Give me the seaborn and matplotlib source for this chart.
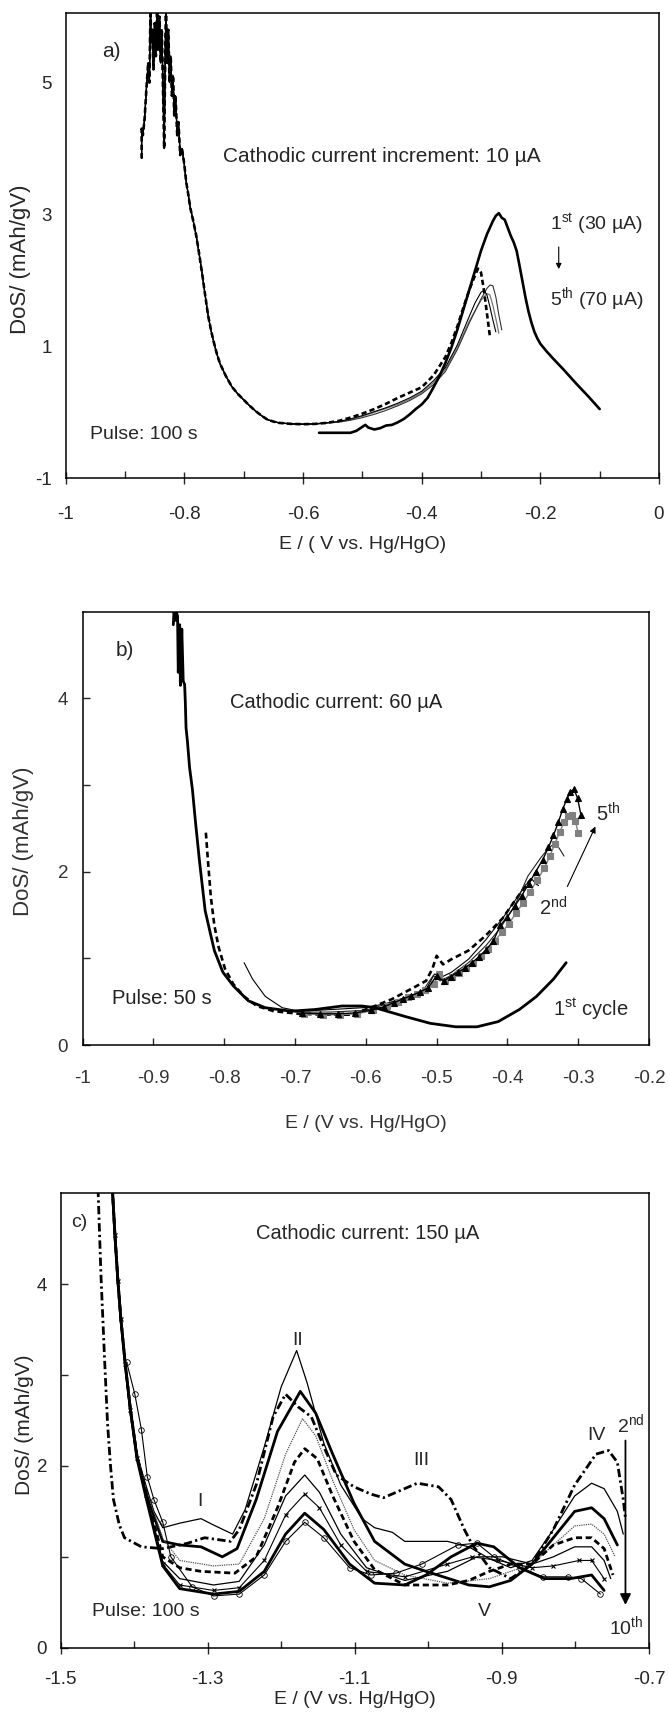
import matplotlib
matplotlib.use('Agg')
import matplotlib.pyplot as plt
import seaborn as sns

# ======================= DATA =======================
# ---- panel a : pulse 100 s, cathodic current increment 10 uA ----
a_left_x = [-0.872, -0.872, -0.870, -0.867, -0.864, -0.861, -0.859, -0.857, -0.856, -0.854,
            -0.852, -0.850, -0.848, -0.846, -0.844, -0.842, -0.840, -0.838, -0.836, -0.834,
            -0.832, -0.831, -0.829, -0.827, -0.825, -0.823, -0.821, -0.819, -0.817, -0.815,
            -0.812, -0.810, -0.807, -0.804, -0.800, -0.797, -0.793, -0.790, -0.785, -0.780,
            -0.775, -0.770, -0.765, -0.760, -0.755, -0.750, -0.745, -0.740, -0.730, -0.720,
            -0.710, -0.700, -0.690, -0.680, -0.670, -0.660, -0.650, -0.640, -0.620, -0.600,
            -0.580, -0.560]
a_left_y = [3.85, 4.30, 4.20, 4.45, 4.90, 5.30, 5.00, 6.10, 5.60, 5.80,
            5.20, 5.90, 5.40, 6.10, 5.50, 6.00, 5.30, 5.80, 4.90, 4.00,
            5.60, 6.10, 5.30, 5.80, 5.00, 5.40, 4.80, 5.10, 4.50, 4.80,
            4.20, 4.40, 3.90, 4.00, 3.75, 3.50, 3.28, 3.10, 2.90, 2.68,
            2.40, 2.10, 1.78, 1.47, 1.24, 1.05, 0.88, 0.74, 0.55, 0.39,
            0.28, 0.19, 0.10, 0.02, -0.05, -0.11, -0.14, -0.16, -0.175, -0.18,
            -0.175, -0.16]
a_c1_x = [-0.573, -0.56, -0.54, -0.52, -0.51, -0.50, -0.495, -0.49, -0.48, -0.47, -0.46, -0.45,
          -0.44, -0.43, -0.42, -0.41, -0.40, -0.39, -0.38, -0.37, -0.36, -0.35, -0.34, -0.33,
          -0.32, -0.31, -0.30, -0.29, -0.28, -0.275, -0.27, -0.265, -0.26, -0.255, -0.25, -0.245,
          -0.24, -0.235, -0.23, -0.225, -0.22, -0.215, -0.21, -0.205, -0.20, -0.19, -0.18,
          -0.16, -0.14, -0.12, -0.10]
a_c1_y = [-0.31, -0.31, -0.31, -0.31, -0.28, -0.22, -0.19, -0.23, -0.26, -0.24, -0.20, -0.19,
          -0.15, -0.10, -0.03, 0.05, 0.12, 0.22, 0.38, 0.55, 0.75, 0.98, 1.25, 1.55,
          1.85, 2.15, 2.45, 2.70, 2.90, 2.98, 3.02, 2.95, 2.92, 2.80, 2.68, 2.58,
          2.45, 2.22, 1.98, 1.74, 1.53, 1.36, 1.22, 1.12, 1.04, 0.93, 0.83,
          0.64, 0.44, 0.25, 0.05]
a_c2_x = [-0.54, -0.52, -0.50, -0.48, -0.46, -0.44, -0.42, -0.40, -0.38, -0.36, -0.35, -0.34,
          -0.33, -0.32, -0.31, -0.305, -0.30, -0.295, -0.29, -0.285]
a_c2_y = [-0.13, -0.08, -0.02, 0.05, 0.13, 0.22, 0.30, 0.38, 0.56, 0.84, 1.05, 1.30,
          1.58, 1.85, 2.08, 2.18, 2.12, 1.85, 1.50, 1.15]
a_c3_x = [-0.54, -0.52, -0.50, -0.48, -0.46, -0.44, -0.42, -0.40, -0.38, -0.36, -0.34, -0.32,
          -0.31, -0.30, -0.295, -0.29, -0.285, -0.28, -0.275]
a_c3_y = [-0.14, -0.10, -0.05, 0.01, 0.07, 0.14, 0.22, 0.32, 0.48, 0.68, 1.02, 1.45,
          1.66, 1.82, 1.85, 1.78, 1.60, 1.40, 1.22]
a_c4_x = [-0.54, -0.52, -0.50, -0.48, -0.46, -0.44, -0.42, -0.40, -0.38, -0.36, -0.34, -0.32,
          -0.30, -0.29, -0.285, -0.28, -0.275, -0.27, -0.265]
a_c4_y = [-0.15, -0.12, -0.08, -0.03, 0.03, 0.10, 0.18, 0.28, 0.42, 0.62, 0.95, 1.35,
          1.72, 1.88, 1.93, 1.92, 1.75, 1.48, 1.25]
a_c5_x = [-0.54, -0.52, -0.50, -0.48, -0.46, -0.44, -0.42, -0.40, -0.38, -0.36, -0.34, -0.32,
          -0.30, -0.29, -0.285, -0.28, -0.275, -0.27]
a_c5_y = [-0.14, -0.11, -0.06, 0.00, 0.06, 0.12, 0.20, 0.30, 0.45, 0.65, 0.98, 1.38,
          1.70, 1.80, 1.78, 1.62, 1.42, 1.20]
a_xticks = [-1, -0.8, -0.6, -0.4, -0.2, 0]
a_xticklabels = ['-1', '-0.8', '-0.6', '-0.4', '-0.2', '0']
a_xminor = [-0.9, -0.7, -0.5, -0.3, -0.1]
a_yticks = [-1, 1, 3, 5]
a_yticklabels = ['-1', '1', '3', '5']

# ---- panel b : pulse 50 s, cathodic current 60 uA ----
b_c1_x = [-0.872, -0.871, -0.869, -0.868, -0.866, -0.865, -0.863, -0.862, -0.860, -0.858,
          -0.856, -0.855, -0.854, -0.852, -0.849, -0.845, -0.841, -0.835, -0.827, -0.820,
          -0.814, -0.802, -0.787, -0.766, -0.742, -0.706, -0.671, -0.634, -0.605, -0.587,
          -0.545, -0.509, -0.473, -0.443, -0.413, -0.383, -0.359, -0.335, -0.317]
b_c1_y = [4.85, 5.00, 4.90, 5.00, 4.95, 4.30, 4.85, 4.15, 4.80, 4.20,
          4.16, 3.95, 3.66, 3.50, 3.20, 2.95, 2.60, 2.12, 1.55, 1.30,
          1.09, 0.84, 0.68, 0.51, 0.43, 0.39, 0.41, 0.45, 0.45, 0.43,
          0.33, 0.25, 0.21, 0.21, 0.27, 0.41, 0.56, 0.76, 0.95]
b_c2_x = [-0.826, -0.823, -0.819, -0.814, -0.808, -0.799, -0.787, -0.772, -0.754, -0.730,
          -0.694, -0.659, -0.623, -0.593, -0.563, -0.533, -0.515, -0.506, -0.500, -0.491,
          -0.479, -0.455, -0.431, -0.407, -0.389, -0.371, -0.356]
b_c2_y = [2.45, 2.12, 1.71, 1.38, 1.13, 0.88, 0.70, 0.56, 0.45, 0.39,
          0.36, 0.35, 0.35, 0.43, 0.53, 0.66, 0.74, 0.88, 1.03, 0.93,
          0.99, 1.09, 1.26, 1.46, 1.67, 1.87, 2.02]
b_c3_x = [-0.772, -0.760, -0.742, -0.718, -0.694, -0.647, -0.605, -0.575, -0.539, -0.515,
          -0.503, -0.494, -0.479, -0.455, -0.431, -0.407, -0.389, -0.374, -0.365, -0.360, -0.356]
b_c3_y = [0.95, 0.76, 0.56, 0.43, 0.39, 0.41, 0.43, 0.47, 0.56, 0.64,
          0.82, 0.78, 0.84, 0.99, 1.21, 1.46, 1.67, 1.85, 1.91, 1.86, 1.84]
b_c4_x = [-0.700, -0.650, -0.600, -0.560, -0.520, -0.505, -0.495, -0.480, -0.455, -0.430,
          -0.410, -0.390, -0.371, -0.353, -0.341, -0.332, -0.326, -0.320]
b_c4_y = [0.38, 0.38, 0.40, 0.50, 0.62, 0.80, 0.74, 0.80, 0.95, 1.15,
          1.35, 1.60, 1.95, 2.16, 2.28, 2.33, 2.26, 2.18]
b_sq_x = [-0.687, -0.661, -0.636, -0.612, -0.590, -0.570, -0.555, -0.540, -0.528, -0.516,
          -0.504, -0.497, -0.488, -0.478, -0.468, -0.458, -0.448, -0.438, -0.428, -0.418,
          -0.408, -0.398, -0.388, -0.378, -0.368, -0.358, -0.348, -0.340, -0.333, -0.326,
          -0.320, -0.314, -0.309, -0.304, -0.300]
b_sq_y = [0.36, 0.35, 0.35, 0.36, 0.40, 0.45, 0.50, 0.55, 0.59, 0.63,
          0.70, 0.82, 0.74, 0.78, 0.83, 0.89, 0.95, 1.03, 1.11, 1.20,
          1.30, 1.40, 1.52, 1.64, 1.77, 1.90, 2.04, 2.18, 2.32, 2.46,
          2.57, 2.64, 2.65, 2.58, 2.45]
b_tri_x = [-0.690, -0.665, -0.640, -0.615, -0.593, -0.575, -0.560, -0.548, -0.536, -0.524,
           -0.512, -0.500, -0.490, -0.480, -0.470, -0.460, -0.450, -0.440, -0.430, -0.420,
           -0.410, -0.400, -0.390, -0.380, -0.370, -0.360, -0.350, -0.342, -0.335, -0.328,
           -0.322, -0.316, -0.311, -0.306, -0.301, -0.296]
b_tri_y = [0.37, 0.36, 0.36, 0.37, 0.40, 0.44, 0.49, 0.53, 0.57, 0.61,
           0.66, 0.80, 0.74, 0.79, 0.84, 0.89, 0.95, 1.02, 1.10, 1.20,
           1.38, 1.48, 1.60, 1.72, 1.86, 2.00, 2.14, 2.28, 2.42, 2.57,
           2.72, 2.84, 2.92, 2.95, 2.85, 2.65]
b_xticks = [-1, -0.9, -0.8, -0.7, -0.6, -0.5, -0.4, -0.3, -0.2]
b_xticklabels = ['-1', '-0.9', '-0.8', '-0.7', '-0.6', '-0.5', '-0.4', '-0.3', '-0.2']
b_yticks = [0, 2, 4]
b_yticklabels = ['0', '2', '4']
b_yminor = [1, 3]

# ---- panel c : pulse 100 s, cathodic current 150 uA, cycles 2nd..10th ----
c_steep_x = [-1.4295, -1.426, -1.422, -1.418, -1.412, -1.405]
c_steep_y = [5.05, 4.54, 4.04, 3.62, 3.12, 2.62]
c2_x = [-1.449, -1.445, -1.440, -1.436, -1.432, -1.428, -1.420, -1.413, -1.390, -1.361,
        -1.327, -1.304, -1.269, -1.257, -1.234, -1.211, -1.194, -1.177, -1.159, -1.142,
        -1.125, -1.101, -1.078, -1.061, -1.038, -1.015, -0.986, -0.969, -0.951, -0.940,
        -0.917, -0.888, -0.859, -0.830, -0.801, -0.772, -0.755, -0.743, -0.735, -0.732]
c2_y = [5.05, 4.10, 3.16, 2.46, 2.00, 1.63, 1.35, 1.21, 1.11, 1.09,
        1.15, 1.21, 1.17, 1.30, 1.79, 2.54, 2.79, 2.65, 2.54, 2.21,
        1.90, 1.77, 1.69, 1.65, 1.73, 1.81, 1.77, 1.63, 1.30, 1.13,
        0.88, 0.76, 0.92, 1.30, 1.79, 2.13, 2.17, 2.04, 1.63, 1.42]
c3_x = [-1.396, -1.384, -1.373, -1.361, -1.338, -1.309, -1.292, -1.266, -1.249, -1.223,
        -1.200, -1.179, -1.165, -1.142, -1.119, -1.090, -1.073, -1.049, -1.032, -0.974,
        -0.945, -0.917, -0.888, -0.859, -0.830, -0.801, -0.778, -0.761, -0.743, -0.735]
c3_y = [2.13, 1.79, 1.50, 1.32, 1.37, 1.42, 1.35, 1.25, 1.52, 2.21,
        2.87, 3.27, 2.92, 2.25, 1.79, 1.42, 1.32, 1.27, 1.17, 1.17,
        1.11, 0.98, 0.88, 0.96, 1.30, 1.67, 1.81, 1.75, 1.50, 1.25]
c4_x = [-1.396, -1.384, -1.361, -1.338, -1.309, -1.280, -1.260, -1.234, -1.205, -1.174,
        -1.153, -1.130, -1.101, -1.073, -1.032, -1.003, -0.945, -0.917, -0.888, -0.859,
        -0.830, -0.801, -0.778, -0.761, -0.743]
c4_y = [2.10, 1.70, 1.17, 1.13, 1.11, 1.00, 1.09, 1.63, 2.38, 2.82,
        2.58, 2.13, 1.59, 1.17, 0.92, 0.84, 0.69, 0.67, 0.74, 0.92,
        1.21, 1.50, 1.54, 1.42, 1.13]
c5_x = [-1.396, -1.384, -1.361, -1.338, -1.292, -1.257, -1.223, -1.194, -1.171, -1.153,
        -1.130, -1.101, -1.073, -1.032, -0.974, -0.917, -0.859, -0.830, -0.801, -0.778,
        -0.761, -0.746]
c5_y = [2.12, 1.75, 1.20, 0.96, 0.90, 0.92, 1.42, 2.13, 2.52, 2.33,
        1.84, 1.30, 0.96, 0.80, 0.71, 0.76, 0.92, 1.13, 1.34, 1.36,
        1.25, 1.00]
c6_x = [-1.396, -1.384, -1.361, -1.338, -1.309, -1.263, -1.234, -1.205, -1.182, -1.168,
        -1.151, -1.130, -1.101, -1.073, -1.032, -0.974, -0.945, -0.917, -0.888, -0.859,
        -0.830, -0.801, -0.778, -0.761, -0.749]
c6_y = [2.11, 1.72, 1.00, 0.88, 0.84, 0.82, 1.00, 1.54, 2.04, 2.19,
        2.08, 1.67, 1.17, 0.86, 0.69, 0.69, 0.74, 0.84, 0.92, 0.92,
        1.13, 1.21, 1.21, 1.09, 0.80]
c7_x = [-1.396, -1.384, -1.361, -1.338, -1.292, -1.257, -1.223, -1.194, -1.168, -1.148,
        -1.119, -1.084, -1.032, -0.974, -0.934, -0.899, -0.859, -0.830, -0.801, -0.778,
        -0.761, -0.752]
c7_y = [2.10, 1.70, 0.95, 0.76, 0.69, 0.73, 1.13, 1.67, 1.90, 1.71,
        1.25, 0.88, 0.74, 0.84, 1.00, 1.00, 0.92, 1.00, 1.11, 1.11,
        0.96, 0.76]
c8_x = [-1.396, -1.384, -1.361, -1.338, -1.292, -1.257, -1.223, -1.194, -1.168, -1.148,
        -1.119, -1.084, -1.032, -0.974, -0.940, -0.905, -0.859, -0.830, -0.795, -0.778,
        -0.761]
c8_y = [2.09, 1.68, 0.92, 0.69, 0.63, 0.66, 0.96, 1.46, 1.69, 1.54,
        1.13, 0.84, 0.78, 0.92, 1.00, 0.96, 0.88, 0.90, 0.96, 0.96,
        0.76]
c9_x = [-1.396, -1.384, -1.361, -1.338, -1.292, -1.257, -1.223, -1.194, -1.168, -1.142,
        -1.107, -1.073, -1.032, -1.003, -0.969, -0.934, -0.911, -0.876, -0.842, -0.807,
        -0.778, -0.761]
c9_y = [2.08, 1.66, 0.90, 0.65, 0.59, 0.62, 0.84, 1.25, 1.48, 1.30,
        0.92, 0.71, 0.69, 0.80, 1.00, 1.15, 1.11, 0.88, 0.76, 0.76,
        0.80, 0.63]
c10_x = [-1.410, -1.399, -1.390, -1.382, -1.373, -1.361, -1.350, -1.321, -1.292, -1.257,
         -1.223, -1.194, -1.168, -1.142, -1.107, -1.078, -1.044, -1.009, -0.960, -0.934,
         -0.911, -0.876, -0.844, -0.810, -0.792, -0.766]
c10_y = [3.14, 2.79, 2.40, 1.88, 1.63, 1.38, 1.00, 0.67, 0.57, 0.59,
         0.80, 1.17, 1.38, 1.21, 0.88, 0.80, 0.82, 0.92, 1.13, 1.15,
         1.00, 0.88, 0.78, 0.78, 0.76, 0.59]
c_xticks = [-1.5, -1.3, -1.1, -0.9, -0.7]
c_xticklabels = ['-1.5', '-1.3', '-1.1', '-0.9', '-0.7']
c_xminor = [-1.4, -1.2, -1.0, -0.8]
c_yticks = [0, 2, 4]
c_yticklabels = ['0', '2', '4']
c_yminor = [1, 3]

# ======================= STYLE =======================
sns.set_style('ticks')
plt.rcParams['font.family'] = ['Liberation Sans', 'DejaVu Sans']
plt.rcParams['mathtext.fontset'] = 'custom'
plt.rcParams['mathtext.rm'] = 'Liberation Sans'
plt.rcParams['mathtext.it'] = 'Liberation Sans:italic'
plt.rcParams['mathtext.bf'] = 'Liberation Sans:bold'
plt.rcParams['axes.linewidth'] = 1.1
plt.rcParams['axes.edgecolor'] = 'black'

W, H = 669, 1714
fig = plt.figure(figsize=(W / 100, H / 100), dpi=100)
fig.patch.set_facecolor('white')


def axes_px(l, r, t, b):
    return fig.add_axes([l / W, 1 - b / H, (r - l) / W, (b - t) / H])


def curve(ax, x, y, color='black', lw=1.0, ls='-', marker=None, ms=4.0, mfc=None,
          mew=0.8, dash=None, z=2):
    kw = dict(color=color, linewidth=lw, linestyle=ls, zorder=z)
    if marker is not None:
        kw.update(marker=marker, markersize=ms,
                  markerfacecolor=(color if mfc is None else mfc),
                  markeredgecolor=color, markeredgewidth=mew)
    sns.lineplot(x=list(x), y=list(y), ax=ax, sort=False, estimator=None, **kw)
    if dash is not None:
        ax.lines[-1].set_dashes(dash)


TICK = 13.5
LAB = 14

# ---------------- panel a ----------------
axa = axes_px(65.7, 659, 13.3, 478.3)
axa.set_xlim(-1, 0)
axa.set_ylim(-1, 6.05)
curve(axa, a_left_x + a_c5_x, a_left_y + a_c5_y, color='#777777', lw=0.9)
curve(axa, a_left_x + a_c4_x, a_left_y + a_c4_y, color='#333333', lw=0.8)
curve(axa, a_left_x + a_c3_x, a_left_y + a_c3_y, color='black', lw=0.8)
curve(axa, a_left_x + a_c2_x, a_left_y + a_c2_y, color='black', lw=1.9, dash=(2.0, 1.2))
curve(axa, a_left_x, a_left_y, color='black', lw=1.0)
curve(axa, a_c1_x, a_c1_y, color='black', lw=1.9)
axa.set_xticks(a_xticks)
axa.set_xticklabels(a_xticklabels)
axa.set_xticks(a_xminor, minor=True)
axa.set_yticks(a_yticks)
axa.set_yticklabels(a_yticklabels)
axa.tick_params(axis='x', which='major', direction='inout', length=8, width=1.0,
                pad=16, labelsize=TICK)
axa.tick_params(axis='x', which='minor', direction='in', length=5, width=1.0)
axa.tick_params(axis='y', which='major', length=0, pad=10, labelsize=TICK)
axa.set_xlabel('E / ( V vs. Hg/HgO)', fontsize=LAB, va='center')
axa.xaxis.set_label_coords(0.5, -0.143)
axa.set_ylabel('DoS/ (mAh/gV)', fontsize=16, va='center')
axa.yaxis.set_label_coords(-0.077, 0.47)
axa.text(-0.923, 5.47, 'a)', fontsize=15, ha='center', va='center')
axa.text(-0.467, 3.88, 'Cathodic current increment: 10 µA', fontsize=15,
         ha='center', va='center')
axa.text(-0.184, 2.85, r'1$^{\mathrm{st}}$ (30 µA)', fontsize=14, ha='left', va='center')
axa.text(-0.184, 1.72, r'5$^{\mathrm{th}}$ (70 µA)', fontsize=14, ha='left', va='center')
axa.annotate('', xy=(-0.169, 2.13), xytext=(-0.169, 2.55),
             arrowprops=dict(arrowstyle='-|>', color='black', lw=0.8, mutation_scale=8))
axa.text(-0.959, -0.34, 'Pulse: 100 s', fontsize=14, ha='left', va='center')

# ---------------- panel b ----------------
GB = '#333333'
axb = axes_px(82.7, 649, 611.7, 1045)
axb.set_xlim(-1, -0.2)
axb.set_ylim(0, 5)
curve(axb, b_c1_x, b_c1_y, color='black', lw=2.0, z=3)
curve(axb, b_c2_x, b_c2_y, color='black', lw=1.9, dash=(2.2, 1.4))
curve(axb, b_c3_x, b_c3_y, color='black', lw=0.8)
curve(axb, b_c4_x, b_c4_y, color='#222222', lw=0.8)
curve(axb, b_sq_x, b_sq_y, color='#808080', lw=1.0, marker='s', ms=4.2)
curve(axb, b_tri_x, b_tri_y, color='black', lw=1.0, marker='^', ms=5.0)
axb.set_xticks(b_xticks)
axb.set_xticklabels(b_xticklabels)
axb.set_yticks(b_yticks)
axb.set_yticklabels(b_yticklabels)
axb.set_yticks(b_yminor, minor=True)
axb.tick_params(axis='both', which='both', direction='in', length=5, width=1.0,
                labelsize=TICK, labelcolor=GB)
axb.tick_params(axis='x', which='major', pad=18)
axb.tick_params(axis='y', which='major', pad=10.5)
axb.set_xlabel('E / (V vs. Hg/HgO)', fontsize=LAB, va='center', color=GB)
axb.xaxis.set_label_coords(0.5, -0.182)
axb.set_ylabel('DoS/ (mAh/gV)', fontsize=16, va='center', color=GB)
axb.yaxis.set_label_coords(-0.104, 0.47)
axb.text(-0.94, 4.55, 'b)', fontsize=15, ha='center', va='center')
axb.text(-0.642, 3.95, 'Cathodic current: 60 µA', fontsize=14.5, ha='center',
         va='center', color='#222222')
axb.text(-0.275, 2.67, r'5$^{\mathrm{th}}$', fontsize=14.5, ha='left', va='center')
axb.text(-0.356, 1.58, r'2$^{\mathrm{nd}}$', fontsize=14.5, ha='left', va='center')
axb.annotate('', xy=(-0.274, 2.55), xytext=(-0.317, 1.80),
             arrowprops=dict(arrowstyle='-|>', color='black', lw=0.8, mutation_scale=9))
axb.text(-0.958, 0.535, 'Pulse: 50 s', fontsize=14.5, ha='left', va='center',
         color='#222222')
axb.text(-0.335, 0.41, r'1$^{\mathrm{st}}$ cycle', fontsize=14.5, ha='left', va='center')

# ---------------- panel c ----------------
axc = axes_px(60.5, 649, 1193.3, 1647.7)
axc.set_xlim(-1.5, -0.7)
axc.set_ylim(0, 5)
curve(axc, c2_x, c2_y, color='black', lw=2.0, dash=(3.0, 1.2, 0.8, 1.2))
curve(axc, c_steep_x + c3_x, c_steep_y + c3_y, color='black', lw=0.9)
curve(axc, c_steep_x + c4_x, c_steep_y + c4_y, color='black', lw=2.0)
curve(axc, c_steep_x + c5_x, c_steep_y + c5_y, color='#555555', lw=0.9, dash=(1.0, 0.8))
curve(axc, c_steep_x + c6_x, c_steep_y + c6_y, color='black', lw=2.0, dash=(2.2, 1.3))
curve(axc, c_steep_x + c7_x, c_steep_y + c7_y, color='black', lw=0.9)
curve(axc, c_steep_x + c8_x, c_steep_y + c8_y, color='black', lw=0.8, marker='x',
      ms=3.5, mew=0.8)
curve(axc, c_steep_x + c9_x, c_steep_y + c9_y, color='black', lw=2.0)
curve(axc, c10_x, c10_y, color='black', lw=0.8, marker='o', ms=4.0, mfc='none', mew=0.6)
axc.set_xticks(c_xticks)
axc.set_xticklabels(c_xticklabels)
axc.set_xticks(c_xminor, minor=True)
axc.set_yticks(c_yticks)
axc.set_yticklabels(c_yticklabels)
axc.set_yticks(c_yminor, minor=True)
axc.tick_params(axis='x', which='major', direction='inout', length=8, width=1.0,
                pad=13, labelsize=TICK)
axc.tick_params(axis='x', which='minor', direction='in', length=5, width=1.0)
axc.tick_params(axis='y', which='both', direction='in', length=5, width=1.0,
                pad=9.7, labelsize=TICK)
axc.set_xlabel('E / (V vs. Hg/HgO)', fontsize=LAB, va='center')
axc.xaxis.set_label_coords(0.5, -0.115)
axc.set_ylabel('DoS/ (mAh/gV)', fontsize=15, va='center')
axc.yaxis.set_label_coords(-0.062, 0.49)
axc.text(-1.474, 4.68, 'c)', fontsize=14, ha='center', va='center')
axc.text(-1.083, 4.56, 'Cathodic current: 150 µA', fontsize=14.5, ha='center', va='center')
axc.text(-1.178, 3.38, 'II', fontsize=14, ha='center', va='center')
axc.text(-1.311, 1.61, 'I', fontsize=14, ha='center', va='center')
axc.text(-1.009, 2.06, 'III', fontsize=14, ha='center', va='center')
axc.text(-0.772, 2.33, 'IV', fontsize=14, ha='center', va='center')
axc.text(-0.924, 0.40, 'V', fontsize=14, ha='center', va='center')
axc.text(-0.743, 2.46, r'2$^{\mathrm{nd}}$', fontsize=14, ha='left', va='center')
axc.text(-0.755, 0.24, r'10$^{\mathrm{th}}$', fontsize=14, ha='left', va='center')
axc.annotate('', xy=(-0.732, 0.44), xytext=(-0.732, 2.31),
             arrowprops=dict(arrowstyle='-|>', color='black', lw=1.3, mutation_scale=16))
axc.text(-1.457, 0.40, 'Pulse: 100 s', fontsize=14, ha='left', va='center')

for ax in (axa, axb, axc):
    ax.set_facecolor('white')
    for s in ax.spines.values():
        s.set_visible(True)
        s.set_color('black')
        s.set_linewidth(1.1)

fig.savefig('out.png', dpi=100, facecolor='white')
